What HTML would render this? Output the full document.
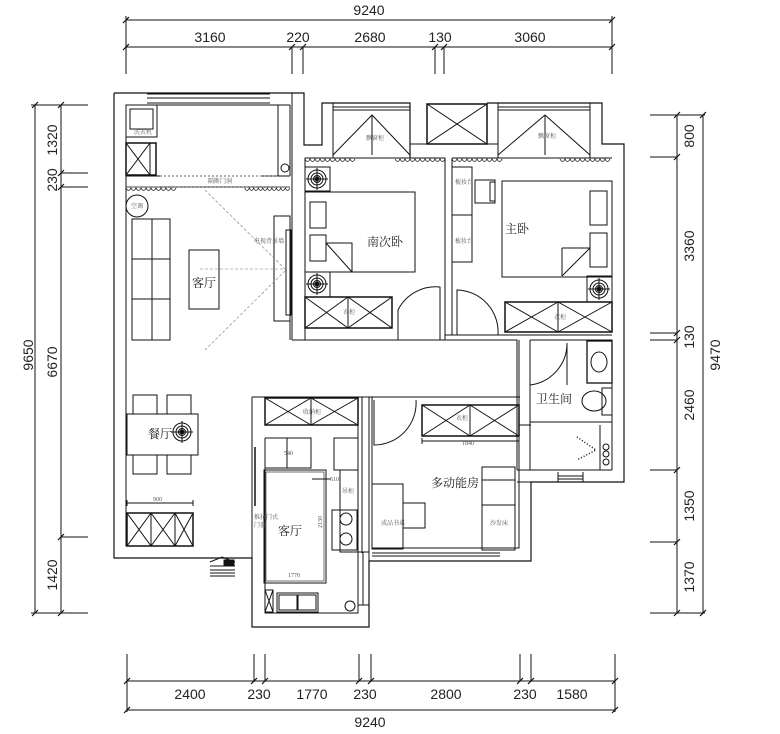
<!DOCTYPE html>
<html><head><meta charset="utf-8"><style>
html,body{margin:0;padding:0;background:#fff;width:780px;height:734px;overflow:hidden}
svg{display:block}
text{stroke:none}
.d{font-family:"Liberation Sans",sans-serif;font-size:14px;fill:#222}
.c{font-family:"Liberation Serif","Noto Serif CJK SC",serif;fill:#222}
.s{font-family:"Liberation Serif","Noto Serif CJK SC",serif;font-size:6px;fill:#555}
</style></head><body>
<svg width="780" height="734" viewBox="0 0 780 734" xmlns="http://www.w3.org/2000/svg" fill="none" stroke="#111" stroke-width="1">
<defs>
<g id="tg"><circle r="9" fill="#fff"/><circle r="6"/><circle r="3.5"/><circle r="2" fill="#111"/><path d="M-11 0H11M0-11V11"/></g>
<path id="cur" d="M0 0q2.5 5 5 0q2.5 5 5 0q2.5 5 5 0q2.5 5 5 0q2.5 5 5 0q2.5 5 5 0q2.5 5 5 0q2.5 5 5 0q2.5 5 5 0q2.5 5 5 0" stroke-width="0.8"/>
</defs>
<!-- TOP DIMENSIONS -->
<path d="M126 20H612M126 47H612"/>
<path d="M126 16V74M612 16V74M292 47V74M303 47V74M435 47V74M444 47V74"/>
<path d="M123 23l6-6M609 23l6-6M123 50l6-6M289 50l6-6M300 50l6-6M432 50l6-6M441 50l6-6M609 50l6-6" stroke-width="1.2"/>
<text class="d" x="369" y="15" text-anchor="middle">9240</text>
<text class="d" x="210" y="42" text-anchor="middle">3160</text>
<text class="d" x="298" y="42" text-anchor="middle">220</text>
<text class="d" x="370" y="42" text-anchor="middle">2680</text>
<text class="d" x="440" y="42" text-anchor="middle">130</text>
<text class="d" x="530" y="42" text-anchor="middle">3060</text>
<!-- BOTTOM DIMENSIONS -->
<path d="M127 681H615M127 710H615"/>
<path d="M127 654V712M615 654V712M254 654V681M265 654V681M359 654V681M371 654V681M520 654V681M531 654V681"/>
<path d="M124 684l6-6M251 684l6-6M262 684l6-6M356 684l6-6M368 684l6-6M517 684l6-6M528 684l6-6M612 684l6-6M124 713l6-6M612 713l6-6" stroke-width="1.2"/>
<text class="d" x="190" y="699" text-anchor="middle">2400</text>
<text class="d" x="259" y="699" text-anchor="middle">230</text>
<text class="d" x="312" y="699" text-anchor="middle">1770</text>
<text class="d" x="365" y="699" text-anchor="middle">230</text>
<text class="d" x="446" y="699" text-anchor="middle">2800</text>
<text class="d" x="525" y="699" text-anchor="middle">230</text>
<text class="d" x="572" y="699" text-anchor="middle">1580</text>
<text class="d" x="370" y="727" text-anchor="middle">9240</text>
<!-- LEFT DIMENSIONS -->
<path d="M35 105V613M61 105V613"/>
<path d="M31 105H88M61 173H88M61 187H88M61 537H88M31 613H88"/>
<path d="M32 108l6-6M58 108l6-6M58 176l6-6M58 190l6-6M58 540l6-6M32 616l6-6M58 616l6-6" stroke-width="1.2"/>
<text class="d" transform="translate(33,355) rotate(-90)" text-anchor="middle">9650</text>
<text class="d" transform="translate(57,140) rotate(-90)" text-anchor="middle">1320</text>
<text class="d" transform="translate(57,180) rotate(-90)" text-anchor="middle">230</text>
<text class="d" transform="translate(57,362) rotate(-90)" text-anchor="middle">6670</text>
<text class="d" transform="translate(57,575) rotate(-90)" text-anchor="middle">1420</text>
<!-- RIGHT DIMENSIONS -->
<path d="M677 115V613M703 115V613"/>
<path d="M650 115H705M650 157H677M650 333H677M650 340H677M650 470H677M650 542H677M650 613H705"/>
<path d="M674 118l6-6M700 118l6-6M674 160l6-6M674 336l6-6M674 343l6-6M674 473l6-6M674 545l6-6M674 616l6-6M700 616l6-6" stroke-width="1.2"/>
<text class="d" transform="translate(694,136) rotate(-90)" text-anchor="middle">800</text>
<text class="d" transform="translate(694,246) rotate(-90)" text-anchor="middle">3360</text>
<text class="d" transform="translate(694,337) rotate(-90)" text-anchor="middle">130</text>
<text class="d" transform="translate(694,405) rotate(-90)" text-anchor="middle">2460</text>
<text class="d" transform="translate(694,506) rotate(-90)" text-anchor="middle">1350</text>
<text class="d" transform="translate(694,577) rotate(-90)" text-anchor="middle">1370</text>
<text class="d" transform="translate(720,355) rotate(-90)" text-anchor="middle">9470</text>

<!-- OUTER WALLS -->
<path d="M114 93H304V145H322V103H410V158" stroke-width="1.2"/>
<path d="M114 93V558H252V627H369V561H531V482H624V144H602V103H487" stroke-width="1.2"/>
<path d="M126 105V546H193"/>
<path d="M147 94H270M147 98H270M147 103H270"/>
<path d="M126 105H278V176M290 105V176M278 105H290M126 176H160M262 176H290"/>
<circle cx="285" cy="168" r="4"/>
<!-- balcony fixtures -->
<rect x="126" y="105" width="31" height="32"/><rect x="130" y="109" width="23" height="20"/>
<text class="s" x="134" y="134">洗衣机</text>
<rect x="126" y="143" width="30" height="32" stroke-width="1.5"/><path d="M126 143L150 175M150 143L126 175M150 143V175"/>
<path d="M160 176H277M160 187H277" stroke-dasharray="2 2" stroke="#666"/>
<text class="s" x="208" y="183">隔断门洞</text>
<use href="#cur" x="126" y="188"/><use href="#cur" x="245" y="188" transform="scale(0.9 1) translate(27 0)"/>
<path d="M126 187H290" stroke-width="0.8"/>
<!-- living room -->
<circle cx="137" cy="206" r="11"/><text class="s" x="131" y="208">空调</text>
<rect x="132" y="219" width="38" height="121"/><path d="M152 219V340M132 259H170M132 299H170"/>
<rect x="189" y="250" width="30" height="59"/>
<text class="c" x="204" y="287" font-size="12" text-anchor="middle">客厅</text>
<rect x="274" y="216" width="16" height="105"/><rect x="286" y="230" width="5" height="85"/>
<text class="s" x="254" y="243">电视背景墙</text>
<path d="M205 190L286 270L205 350M200 269H286" stroke="#777" stroke-width="0.6" stroke-dasharray="3 2"/>
<path d="M290 216V340M292 93V340" stroke-width="1"/>
<!-- bay window 1 -->
<path d="M333 103V158M410 103V158M333 107H410M333 110H410"/>
<path d="M333 155L372 115L410 155M372 115V155"/>
<text class="s" x="366" y="140">飘窗柜</text>
<rect x="427" y="104" width="60" height="40" stroke-width="1.5"/><path d="M427 104L487 144M487 104L427 144"/>
<path d="M410 144H427M487 144H498"/>
<!-- bay window 2 -->
<path d="M498 103V158M590 103V158M498 107H590M498 110H590M590 103H602"/>
<path d="M498 155L545 115L590 155M545 115V155"/>
<text class="s" x="538" y="138">飘窗柜</text>
<!-- bedroom 1 -->
<path d="M305 158H445V340M305 158V340M452 158H612M452 158V335" />
<use href="#cur" x="305" y="159"/><use href="#cur" x="395" y="159"/>
<use href="#cur" x="452" y="159"/><use href="#cur" x="560" y="159"/>
<rect x="305" y="167" width="25" height="24"/><use href="#tg" x="317" y="179"/>
<rect x="305" y="192" width="110" height="80"/>
<rect x="310" y="202" width="16" height="26"/><rect x="310" y="235" width="16" height="26"/>
<path d="M326 243H352V272M326 243L352 272"/>
<text class="c" x="385" y="246" font-size="12" text-anchor="middle">南次卧</text>
<rect x="305" y="272" width="25" height="25"/><use href="#tg" x="317" y="284"/>
<rect x="305" y="297" width="87" height="31" stroke-width="1.5"/>
<path d="M305 297L348 328M348 297L305 328M348 297L392 328M392 297L348 328M348 297V328"/>
<text class="s" x="343" y="314">衣柜</text>
<path d="M398 340V310A42 42 0 0 1 440 287V340"/>
<!-- master bedroom -->
<rect x="452" y="167" width="20" height="48"/><rect x="452" y="215" width="20" height="47"/>
<text class="s" x="455" y="184">梳妆台</text><text class="s" x="455" y="243">梳妆台</text>
<rect x="475" y="180" width="20" height="23"/><rect x="490" y="182" width="5" height="19"/>
<rect x="502" y="181" width="110" height="96"/>
<rect x="590" y="191" width="17" height="34"/><rect x="590" y="233" width="17" height="34"/>
<path d="M562 248H590M562 248V276M562 276L590 248"/>
<text class="c" x="517" y="233" font-size="12" text-anchor="middle">主卧</text>
<rect x="587" y="276" width="25" height="26"/><use href="#tg" x="599" y="289"/>
<rect x="505" y="302" width="107" height="30" stroke-width="1.5"/>
<path d="M505 302L558 332M558 302L505 332M558 302L612 332M612 302L558 332M558 302V332"/>
<text class="s" x="554" y="319">衣柜</text>
<path d="M457 335V290A42 42 0 0 1 498 335"/>
<path d="M292 340H517V470M445 335H612" />
<!-- bathroom -->
<path d="M530 340V470H612M530 340H612V470M517 482H531M517 470H530M530 422H612"/>
<path d="M530 383L530 343M530 385A42 42 0 0 0 567 343V385"/>
<rect x="587" y="341" width="25" height="42" stroke-width="1.3"/><ellipse cx="599" cy="362" rx="8" ry="10"/>
<ellipse cx="594" cy="401" rx="12" ry="10"/><rect x="602" y="388" width="10" height="27"/>
<text class="c" x="554" y="403" font-size="12" text-anchor="middle">卫生间</text>
<path d="M600 425V470"/>
<circle cx="606" cy="447" r="3"/><circle cx="606" cy="454" r="3"/><circle cx="606" cy="462" r="3"/>
<path d="M577 437l19 13l-19 10" stroke-dasharray="1 2" stroke-width="1.5"/>
<path d="M558 472V482M583 472V482M558 476H583M558 479H583"/>
<!-- dining -->
<rect x="133" y="395" width="24" height="19"/><rect x="167" y="395" width="24" height="19"/>
<rect x="127" y="414" width="71" height="41"/>
<rect x="133" y="455" width="24" height="19"/><rect x="167" y="455" width="24" height="19"/>
<text class="c" x="160" y="438" font-size="12" text-anchor="middle">餐厅</text>
<use href="#tg" x="182" y="432"/>
<path d="M127 503H193M127 500V506M193 500V506"/>
<text class="s" x="153" y="501" font-size="7">900</text>
<rect x="127" y="513" width="66" height="33" stroke-width="1.5"/>
<path d="M127 513L151 546M151 513L127 546M151 513L175 546M175 513L151 546M151 513V546M175 513V546M175 513L193 546M193 513L175 546"/>
<!-- entrance -->
<path d="M210 566H235M210 562L222 557L235 562" /><path d="M224 560H234V566H224Z" fill="#111"/>
<path d="M210 570H235M210 573H235M210 576H235"/>
<!-- kitchen -->
<path d="M252 397H520M252 397V558M369 397V561M358 397V613H265V438M362 397V553"/>
<rect x="265" y="398" width="93" height="27" stroke-width="1.5"/>
<path d="M265 398L311 425M311 398L265 425M311 398L358 425M358 398L311 425M311 398V425"/>
<text class="s" x="303" y="414">收纳柜</text>
<path d="M265 438H311V468H265M287 438V468M311 438V468"/>
<text class="s" x="284" y="455" font-size="7">540</text>
<rect x="264" y="470" width="62" height="113"/><rect x="266" y="472" width="58" height="109" stroke-width="0.6"/>
<path d="M312 479H331"/><text class="s" x="330" y="481" font-size="7">510</text>
<text class="s" x="316" y="530" font-size="7" transform="rotate(-90 318 526)">2130</text>
<text class="s" x="288" y="577" font-size="7">1770</text>
<path d="M255 447V506" stroke-width="1.5"/>
<text class="s" x="254" y="519">推拉门式</text><text class="s" x="254" y="527">门套</text>
<text class="c" x="290" y="535" font-size="12" text-anchor="middle">客厅</text>
<rect x="334" y="438" width="24" height="32"/>
<rect x="340" y="470" width="18" height="82"/><text class="s" x="342" y="493">吊柜</text>
<rect x="332" y="510" width="25" height="40"/>
<circle cx="346" cy="519" r="6"/><circle cx="346" cy="539" r="6"/>
<rect x="265" y="590" width="8" height="22"/><path d="M265 590L273 612M273 590L265 612"/>
<rect x="277" y="593" width="41" height="19"/><rect x="279" y="595" width="18" height="15"/><rect x="298" y="595" width="18" height="15"/>
<circle cx="350" cy="606" r="5"/>
<path d="M358 552H369M358 605H369M363 552V605"/>
<!-- multifunction room -->
<path d="M372 397V548H519V340M519 548V470M372 553H500M372 556H500M519 425H531"/>
<path d="M374 400V445A42 42 0 0 0 416 400" />
<rect x="422" y="405" width="97" height="31" stroke-width="1.5"/>
<path d="M422 405L470 436M470 405L422 436M470 405L519 436M519 405L470 436M470 405V436"/>
<text class="s" x="456" y="420">衣柜</text>
<path d="M422 441H519M422 438V444"/><text class="s" x="462" y="445" font-size="7">1840</text>
<text class="c" x="455" y="487" font-size="12" text-anchor="middle">多动能房</text>
<rect x="372" y="484" width="31" height="65"/><text class="s" x="381" y="525">成品书桌</text>
<rect x="403" y="503" width="22" height="25"/>
<rect x="482" y="467" width="33" height="83"/><path d="M482 480H515M482 505H515"/>
<text class="s" x="490" y="525">沙发床</text>
</svg>
</body></html>
